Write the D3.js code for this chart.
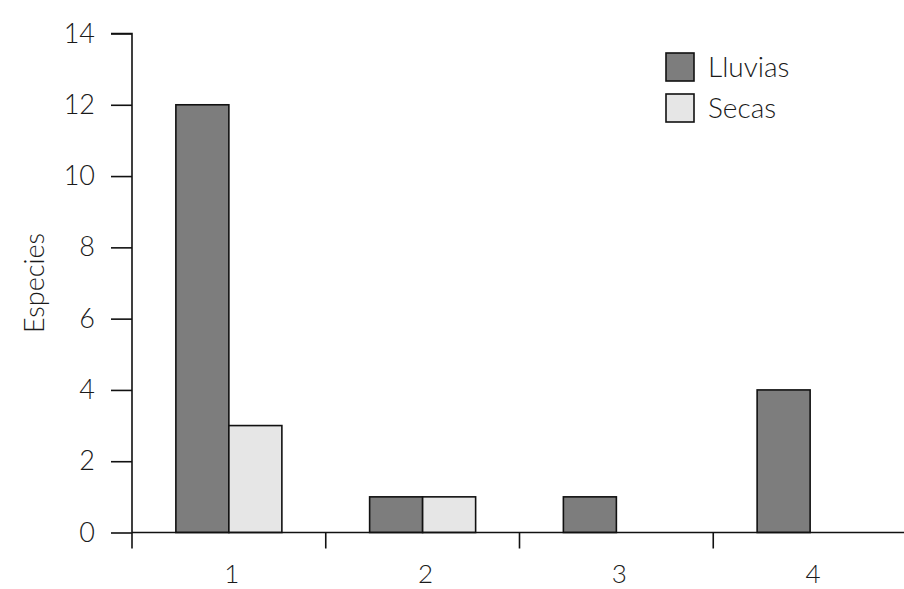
<!DOCTYPE html>
<html><head><meta charset="utf-8">
<script src="https://cdn.jsdelivr.net/npm/d3@7"></script>
<style>
body{margin:0;background:#fff;}
text{font-family:Lato,"Open Sans",sans-serif;font-weight:300;fill:#1a1a1a;}
</style></head>
<body>
<svg id="c" width="904" height="589"></svg>
<script>
const categories = ["1","2","3","4"];
const seriesNames = ["Lluvias","Secas"];
const lluvias = [12, 1, 1, 4];
const secas = [3, 1, 0, 0];
const yTicks = [0,2,4,6,8,10,12,14];
const colors = ["#7d7d7d","#e6e6e6"];

const svg = d3.select("#c");
const mLeft = 132, mRight = 907, mTop = 33.5, mBottom = 532.5;

const x0 = d3.scaleBand().domain(categories).range([mLeft, mRight]).padding(0);
const barW = 53;
const x1 = d3.scaleBand().domain(seriesNames)
  .range([x0.bandwidth()/2 - barW, x0.bandwidth()/2 + barW]).padding(0);
const y = d3.scaleLinear().domain([0,14]).range([mBottom, mTop]);

const data = categories.map((c,i)=>({cat:c, values:[lluvias[i], secas[i]]}));

const g = svg.append("g");
data.forEach(d=>{
  d.values.forEach((v,j)=>{
    if(v<=0) return;
    g.append("rect")
      .attr("x", x0(d.cat) + x1(seriesNames[j]))
      .attr("y", y(v))
      .attr("width", x1.bandwidth())
      .attr("height", y(0)-y(v))
      .attr("fill", colors[j])
      .attr("stroke", "#111")
      .attr("stroke-width", 1.6);
  });
});

// Y axis
const yAxis = d3.axisLeft(y).tickValues(yTicks).tickSize(21).tickPadding(16).tickFormat(d3.format("d"));
const ya = svg.append("g").attr("transform",`translate(${mLeft},0)`).call(yAxis);
ya.select(".domain").attr("stroke","#111").attr("stroke-width",1.6).attr("d",`M-21,${mTop}H0V${mBottom}`);
ya.selectAll(".tick line").attr("stroke","#111").attr("stroke-width",1.6);
ya.selectAll("text").style("font-size","27px").style("font-family","Lato,'Open Sans',sans-serif").style("font-weight","300").style("fill","#1a1a1a");

// X axis
const xa = svg.append("g").attr("transform",`translate(0,${mBottom})`);
xa.append("line").attr("x1",mLeft).attr("x2",904).attr("y1",0).attr("y2",0).attr("stroke","#111").attr("stroke-width",1.6);
categories.forEach(c=>{
  xa.append("line").attr("x1",x0(c)).attr("x2",x0(c)).attr("y1",0).attr("y2",16).attr("stroke","#111").attr("stroke-width",1.6);
  xa.append("text").attr("x",x0(c)+x0.bandwidth()/2 + 3).attr("y",50).attr("text-anchor","middle")
    .style("font-size","26px").text(c);
});

// Y label
svg.append("text").attr("transform",`translate(44,${(mTop+mBottom)/2}) rotate(-90)`)
  .attr("text-anchor","middle").style("font-size","27px").text("Especies");

// Legend
const lg = svg.append("g").attr("transform","translate(666,53)");
seriesNames.forEach((s,i)=>{
  lg.append("rect").attr("x",0).attr("y",i*41).attr("width",28).attr("height",28)
    .attr("fill",colors[i]).attr("stroke","#111").attr("stroke-width",1.6);
  lg.append("text").attr("x",42).attr("y",i*41+24).style("font-size","28px").text(s);
});
</script>
</body></html>
